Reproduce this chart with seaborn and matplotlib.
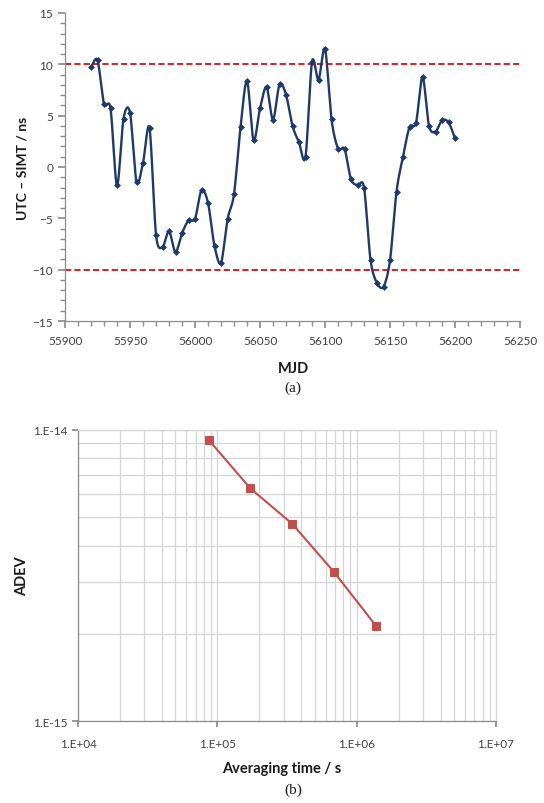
import numpy as np
import pandas as pd
import matplotlib
matplotlib.use("Agg")
import matplotlib.pyplot as plt
import matplotlib.ticker as mticker
import seaborn as sns

# ---------------- data ----------------
mjd = [55920, 55925, 55930, 55935, 55940, 55945, 55950, 55955, 55960, 55965,
       55970, 55975, 55980, 55985, 55990, 55995, 56000, 56005, 56010, 56015,
       56020, 56025, 56030, 56035, 56040, 56045, 56050, 56055, 56060, 56065,
       56070, 56075, 56080, 56085, 56090, 56095, 56100, 56105, 56110, 56115,
       56120, 56125, 56130, 56135, 56140, 56145, 56150, 56155, 56160, 56165,
       56170, 56175, 56180, 56185, 56190, 56195, 56200]
utc_simt = [9.7, 10.4, 6.15, 5.7, -1.8, 4.7, 5.3, -1.45, 0.4, 3.8,
            -6.6, -7.8, -6.25, -8.3, -6.45, -5.2, -5.05, -2.25, -3.5, -7.7,
            -9.35, -5.1, -2.65, 3.85, 8.4, 2.6, 5.7, 7.8, 4.6, 8.05,
            7.05, 4.0, 2.4, 1.0, 10.25, 8.5, 11.5, 4.65, 1.8, 1.75,
            -1.2, -1.8, -2.0, -9.05, -11.3, -11.65, -9.1, -2.4, 1.0, 3.9,
            4.3, 8.8, 4.0, 3.45, 4.55, 4.35, 2.8]
limits = [10, -10]

tau = [86400, 172800, 345600, 691200, 1382400]
adev = [9.24e-15, 6.29e-15, 4.75e-15, 3.24e-15, 2.12e-15]

x_ticks_a = [55900, 55950, 56000, 56050, 56100, 56150, 56200, 56250]
y_ticks_a = [-15, -10, -5, 0, 5, 10, 15]
x_ticks_b = [1e4, 1e5, 1e6, 1e7]
x_labels_b = ["1.E+04", "1.E+05", "1.E+06", "1.E+07"]
y_ticks_b = [1e-15, 1e-14]
y_labels_b = ["1.E-15", "1.E-14"]


def catmull_rom(xs, ys, n=20):
    xs = np.asarray(xs, float)
    ys = np.asarray(ys, float)
    P = np.column_stack([xs, ys])
    P = np.vstack([P[0], P, P[-1]])
    out = []
    t = np.linspace(0, 1, n, endpoint=False)
    for i in range(1, len(P) - 2):
        p0, p1, p2, p3 = P[i - 1], P[i], P[i + 1], P[i + 2]
        m1 = (p2 - p0) / 2 * 0.9
        m2 = (p3 - p1) / 2 * 0.9
        h00 = 2 * t**3 - 3 * t**2 + 1
        h10 = t**3 - 2 * t**2 + t
        h01 = -2 * t**3 + 3 * t**2
        h11 = t**3 - t**2
        seg = (h00[:, None] * p1 + h10[:, None] * m1 +
               h01[:, None] * p2 + h11[:, None] * m2)
        out.append(seg)
    out.append(P[-2][None, :])
    return np.vstack(out)


sns.set_theme(style="white")
font = ["Lato", "DejaVu Sans"]
plt.rcParams["font.family"] = font

fig = plt.figure(figsize=(5.44, 8.04), dpi=100)

# ---------------- chart (a) ----------------
ax1 = fig.add_axes([0.1195, 0.5995, 0.8364, 0.3831])
df_a = pd.DataFrame({"MJD": mjd, "val": utc_simt})
curve = catmull_rom(df_a["MJD"], df_a["val"])
df_curve = pd.DataFrame({"x": curve[:, 0], "y": curve[:, 1]})
navy = "#1F3A68"
sns.lineplot(data=df_curve, x="x", y="y", sort=False, estimator=None,
             color=navy, lw=1.7, ax=ax1)
sns.scatterplot(data=df_a, x="MJD", y="val", marker="D", s=9,
                color=navy, edgecolor=navy, linewidth=0.5, ax=ax1, zorder=3)
for lv in limits:
    ax1.axhline(lv, color="#E31A1C", lw=1.4, ls=(0, (3.2, 1.6)), zorder=1)

ax1.set_xlim(55900, 56250)
ax1.set_ylim(-15, 15)
ax1.set_xticks(x_ticks_a)
ax1.set_yticks(y_ticks_a)
ax1.xaxis.set_minor_locator(mticker.MultipleLocator(10))
ax1.yaxis.set_minor_locator(mticker.MultipleLocator(1))
for s in ["top", "right"]:
    ax1.spines[s].set_visible(False)
for s in ["left", "bottom"]:
    ax1.spines[s].set_color("#8C8C8C")
    ax1.spines[s].set_linewidth(0.9)
ax1.tick_params(which="both", direction="out", color="#8C8C8C",
                labelsize=8.5, labelcolor="#404040", left=True, bottom=True)
ax1.tick_params(which="major", length=5)
ax1.tick_params(which="minor", length=3.5)
ax1.tick_params(axis="x", pad=5)
ax1.set_xlabel("")
ax1.set_ylabel("UTC \u2013 SIMT / ns", fontsize=10, fontweight="bold",
               color="#1a1a1a", labelpad=10)
ax1.yaxis.set_label_coords(-0.08, 0.5)
fig.text(0.539, 1 - 369 / 804, "MJD", ha="center", va="center",
         fontsize=10.5, fontweight="bold", color="#1a1a1a")
fig.text(0.539, 1 - 388 / 804, "(a)", ha="center", va="center",
         fontsize=11, family="Liberation Serif", color="#1a1a1a")

# ---------------- chart (b) ----------------
ax2 = fig.add_axes([0.1434, 0.1016, 0.7684, 0.3627])
df_b = pd.DataFrame({"tau": tau, "adev": adev})
red = "#C0504D"
sns.lineplot(data=df_b, x="tau", y="adev", color=red, lw=1.5,
             marker="s", markersize=6, markeredgecolor=red, ax=ax2, zorder=3)
ax2.set_xscale("log")
ax2.set_yscale("log")
ax2.set_xlim(1e4, 1e7)
ax2.set_ylim(1e-15, 1e-14)
ax2.set_xticks(x_ticks_b)
ax2.set_xticklabels(x_labels_b)
ax2.set_yticks(y_ticks_b)
ax2.set_yticklabels(y_labels_b)
ax2.xaxis.set_minor_locator(mticker.LogLocator(base=10, subs=np.arange(2, 10)))
ax2.yaxis.set_minor_locator(mticker.LogLocator(base=10, subs=np.arange(2, 10)))
ax2.xaxis.set_minor_formatter(mticker.NullFormatter())
ax2.yaxis.set_minor_formatter(mticker.NullFormatter())
ax2.grid(which="both", color="#D4D4D4", lw=0.9)
ax2.set_axisbelow(True)
for s in ["top", "right"]:
    ax2.spines[s].set_color("#D4D4D4")
    ax2.spines[s].set_linewidth(0.9)
for s in ["left", "bottom"]:
    ax2.spines[s].set_color("#8C8C8C")
    ax2.spines[s].set_linewidth(0.9)
ax2.tick_params(which="major", direction="out", length=4, color="#8C8C8C",
                labelsize=8.5, labelcolor="#404040", left=True, bottom=True)
ax2.tick_params(which="minor", length=0)
ax2.tick_params(axis="x", pad=8)
ax2.set_xlabel("")
ax2.set_ylabel("ADEV", fontsize=10.5, fontweight="bold", color="#1a1a1a")
ax2.yaxis.set_label_coords(-0.117, 0.5)
fig.text(0.518, 1 - 769 / 804, "Averaging time / s", ha="center", va="center",
         fontsize=10.5, fontweight="bold", color="#1a1a1a")
fig.text(0.539, 1 - 790 / 804, "(b)", ha="center", va="center",
         fontsize=11, family="Liberation Serif", color="#1a1a1a")

fig.savefig("out.png", dpi=100)
